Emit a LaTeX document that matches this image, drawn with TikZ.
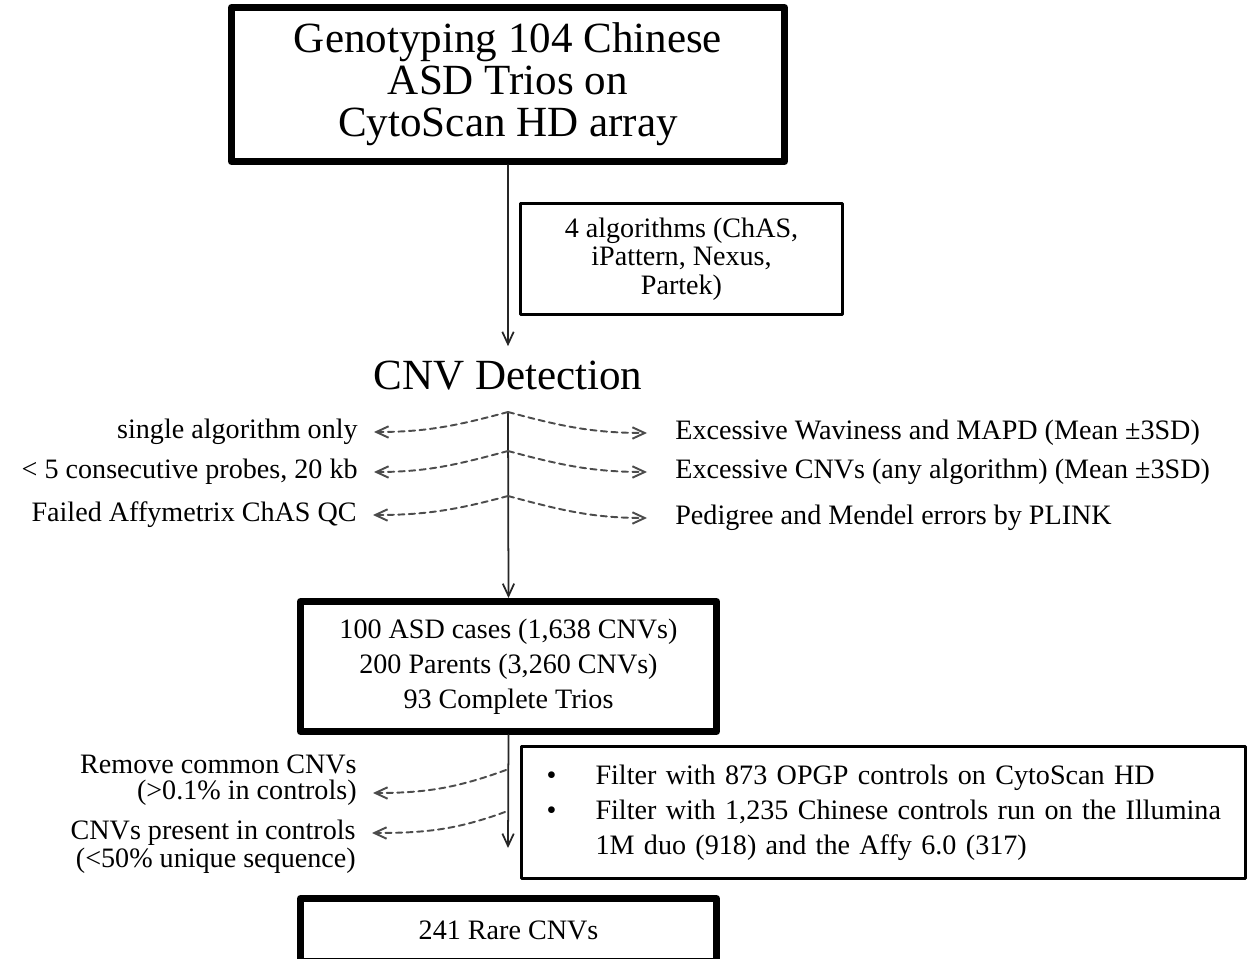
\documentclass[tikz,border=0pt]{standalone}
\usepackage{fontspec}
\setmainfont{Liberation Serif}
\usetikzlibrary{arrows.meta}
\begin{document}
\begin{tikzpicture}[x=0.02cm, y=-0.02cm, line join=round, line cap=round,
    >={Straight Barb[length=7pt,width=6.5pt]},
    big/.style={font=\fontsize{24.5}{23.8}\selectfont},
    small/.style={font=\fontsize{16}{19.8}\selectfont},
    thickbox/.style={draw, line width=4pt, align=center, inner sep=0pt},
    thinbox/.style={draw, line width=1.7pt, align=center, inner sep=0pt, small},
    critL/.style={small, anchor=east, inner xsep=0.32cm, inner ysep=0pt},
    critR/.style={small, anchor=west, inner xsep=0.56cm, inner ysep=0pt},
    flow/.style={->, line width=1pt, black!85},
    branch/.style={->, line width=1.1pt, black!70, dash pattern=on 3.5pt off 2.5pt}]
    \useasboundingbox (0,0) rectangle (1248,959);
    \clip (0,0) rectangle (1248,959);
    % boxes
    \node[thickbox, big, minimum width=11.06cm, minimum height=3.08cm] (geno) at (508,84.5)
        {Genotyping 104 Chinese\\ASD Trios on\\CytoScan HD array};
    \node[thinbox, minimum width=6.46cm, minimum height=2.24cm, font=\fontsize{16}{16.2}\selectfont] (algo) at (681.5,259)
        {4 algorithms (ChAS,\\iPattern, Nexus,\\Partek)};
    \node[big, anchor=base, inner xsep=0pt, inner ysep=0.3cm] (det) at (508,390) {CNV Detection};
    \node[thickbox, small, minimum width=8.32cm, minimum height=2.6cm] (cases) at (508.5,666.5)
        {100 ASD cases (1,638 CNVs)\\200 Parents (3,260 CNVs)\\93 Complete Trios};
    \node[thinbox, align=left, text width=13.48cm, inner xsep=0.5cm, minimum height=2.64cm] (ctrl) at (883.5,812.5)
        {\mbox{\makebox[0.98cm][l]{\textbullet}Filter with 873 OPGP controls on CytoScan HD}\\
         \mbox{\makebox[0.98cm][l]{\textbullet}Filter with 1,235 Chinese controls run on the Illumina}\\
         \mbox{\hspace*{0.98cm}1M duo (918) and the Affy 6.0 (317)}};
    \node[thickbox, small, minimum width=8.32cm, minimum height=1.26cm] (rare) at (508.5,930) {241 Rare CNVs};
    % QC criteria
    \node[critL] (l1) at (374,432) {single algorithm only};
    \node[critL] (l2) at (374,472) {< 5 consecutive probes, 20 kb};
    \node[critL] (l3) at (373,515) {Failed Affymetrix ChAS QC};
    \node[critR] (r1) at (647,433) {Excessive Waviness and MAPD (Mean ±3SD)};
    \node[critR] (r2) at (647,472) {Excessive CNVs (any algorithm) (Mean ±3SD)};
    \node[critR] (r3) at (647,518) {Pedigree and Mendel errors by PLINK};
    % filtering
    \node[critL] (f1a) at (373,764) {Remove common CNVs};
    \node[critL] (f1) at (373,793) {(>0.1\% in controls)};
    \node[critL] (f2) at (372,833) {CNVs present in controls};
    \node[critL] (f2a) at (372,861) {(<50\% unique sequence)};
    % junctions
    \coordinate (j1) at (508,412);
    \coordinate (j2) at (508,451);
    \coordinate (j3) at (508,496);
    \coordinate (k1) at (506,770);
    \coordinate (k2) at (505,812);
    \coordinate (e) at (508,848);
    % arrows
    \draw[flow] (geno.south) -- (det.north);
    \draw[flow] (j1) -- (cases.north);
    \draw[flow] (cases.south) -- (e);
    \foreach \j/\l/\r in {j1/l1/r1, j2/l2/r2, j3/l3/r3} {
        \draw[branch] (\j) to[out=195,in=0] (\l.east);
        \draw[branch] (\j) to[out=-15,in=180] (\r.west);
    }
    \draw[branch] (k1) to[out=200,in=0] (f1.east);
    \draw[branch] (k2) to[out=200,in=0] (f2.east);
\end{tikzpicture}
\end{document}
